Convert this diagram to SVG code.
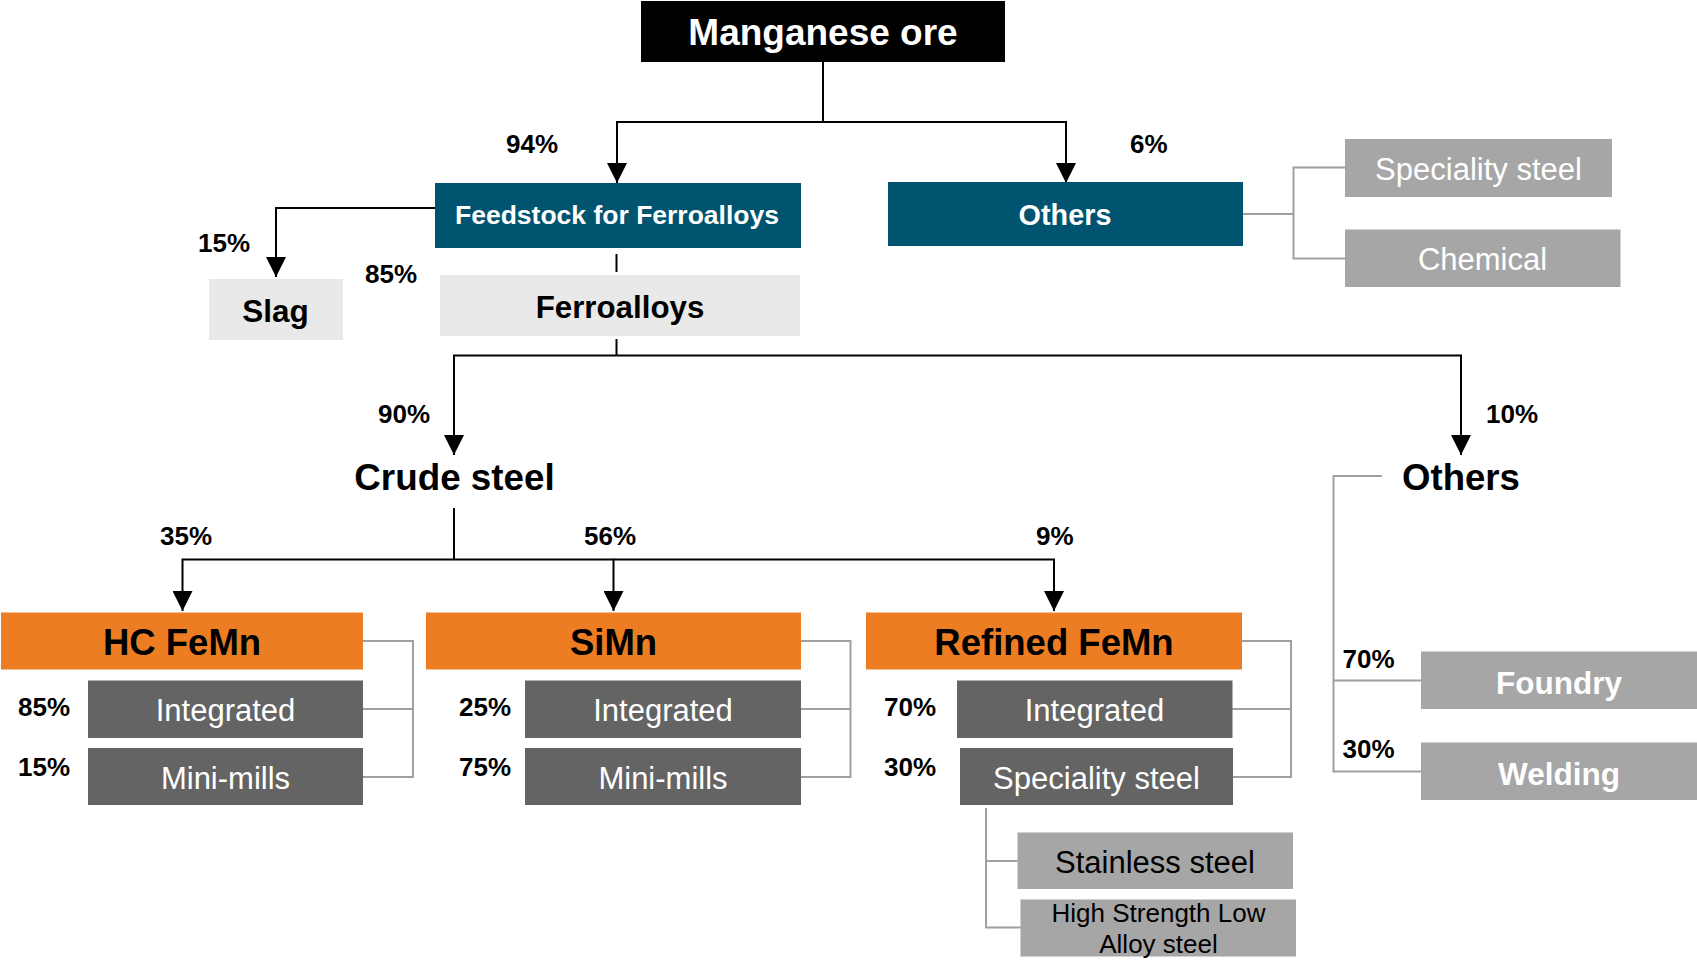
<svg xmlns="http://www.w3.org/2000/svg" width="1697" height="960" viewBox="0 0 1697 960">
<style>
text{font-family:"Liberation Sans",Arial,sans-serif;text-anchor:middle}
.b{font-weight:bold}
.pct{font-weight:bold;font-size:26px;fill:#000;text-anchor:start}
.w{fill:#fff}
.k{fill:#000}
.arr{stroke:#000;stroke-width:2;fill:none}
.arrh{stroke:#000;stroke-width:2;fill:none;marker-end:url(#ah)}
.br{stroke:#a0a0a0;stroke-width:2;fill:none}
.blue{fill:#005470}
.org{fill:#ed7d22}
.dk{fill:#646464}
.lg{fill:#a6a6a6}
.pale{fill:#e9e9e9}
</style>
<defs>
<marker id="ah" viewBox="0 0 20 20" refX="20" refY="10" markerWidth="20" markerHeight="20" markerUnits="userSpaceOnUse" orient="auto">
<path d="M0,0 L20,10 L0,20 z" fill="#000"/>
</marker>
</defs>
<rect width="1697" height="960" fill="#fff"/>

<g id="connectors">
<polyline class="arr" points="823,62 823,122"/>
<polyline class="arrh" points="1066,122 617,122 617,183"/>
<polyline class="arrh" points="823,122 1066,122 1066,183"/>
<polyline class="arrh" points="435,208 276,208 276,277"/>
<line class="arr" x1="616.5" y1="254" x2="616.5" y2="272"/>
<line class="arr" x1="616.5" y1="339" x2="616.5" y2="355.5"/>
<polyline class="arrh" points="616.5,355.5 454,355.5 454,455"/>
<polyline class="arrh" points="616.5,355.5 1461,355.5 1461,455"/>
<line class="arr" x1="454" y1="508" x2="454" y2="559.5"/>
<polyline class="arrh" points="454,559.5 182.5,559.5 182.5,611"/>
<polyline class="arrh" points="454,559.5 613.5,559.5 613.5,611"/>
<polyline class="arrh" points="613.5,559.5 1054,559.5 1054,611"/>
<polyline class="br" points="1243,214 1293.5,214"/>
<polyline class="br" points="1345,167.5 1293.5,167.5 1293.5,258.5 1345,258.5"/>
<polyline class="br" points="363,641 413,641 413,777 363,777"/>
<line class="br" x1="363" y1="709" x2="413" y2="709"/>
<polyline class="br" points="801,641 850.5,641 850.5,777 801,777"/>
<line class="br" x1="801" y1="709" x2="850.5" y2="709"/>
<polyline class="br" points="1242,641 1291,641 1291,777 1233,777"/>
<line class="br" x1="1232" y1="709" x2="1291" y2="709"/>
<polyline class="br" points="986,808 986,927.5 1021,927.5"/>
<line class="br" x1="986" y1="861" x2="1017.5" y2="861"/>
<polyline class="br" points="1382,476 1333.5,476 1333.5,771.5 1421,771.5"/>
<line class="br" x1="1333.5" y1="680.5" x2="1421" y2="680.5"/>
</g>

<g id="labels">
<text class="pct" x="506" y="152.5">94%</text>
<text class="pct" x="1130" y="152.5">6%</text>
<text class="pct" x="198" y="252">15%</text>
<text class="pct" x="365" y="283">85%</text>
<text class="pct" x="378" y="423">90%</text>
<text class="pct" x="1486" y="423">10%</text>
<text class="pct" x="160" y="545">35%</text>
<text class="pct" x="584" y="545">56%</text>
<text class="pct" x="1036" y="544.5">9%</text>
<text class="pct" x="18" y="715.5">85%</text>
<text class="pct" x="18" y="775.5">15%</text>
<text class="pct" x="459" y="715.5">25%</text>
<text class="pct" x="459" y="775.5">75%</text>
<text class="pct" x="884" y="715.5">70%</text>
<text class="pct" x="884" y="775.5">30%</text>
<text class="pct" x="1342.5" y="668">70%</text>
<text class="pct" x="1342.5" y="758">30%</text>
</g>

<g id="manganese-ore">
<rect x="641" y="1" width="364" height="61" fill="#000"/>
<text class="b w" x="823" y="44.5" font-size="37">Manganese ore</text>
</g>
<g id="feedstock">
<rect class="blue" x="435" y="183" width="366" height="65"/>
<text class="b w" x="617" y="224" font-size="26.5">Feedstock for Ferroalloys</text>
</g>
<g id="others-top">
<rect class="blue" x="888" y="182" width="355" height="64"/>
<text class="b w" x="1065" y="225" font-size="28.8">Others</text>
</g>
<g id="speciality-steel-top">
<rect class="lg" x="1345" y="139" width="267" height="58"/>
<text class="w" x="1478.5" y="180" font-size="31">Speciality steel</text>
</g>
<g id="chemical">
<rect class="lg" x="1345" y="229.5" width="275.5" height="57.5"/>
<text class="w" x="1482.5" y="270" font-size="31">Chemical</text>
</g>
<g id="slag">
<rect class="pale" x="209" y="279" width="134" height="61"/>
<text class="b k" x="275.5" y="321.5" font-size="31.5">Slag</text>
</g>
<g id="ferroalloys">
<rect class="pale" x="440" y="275" width="360" height="61"/>
<text class="b k" x="620" y="317.5" font-size="31.3">Ferroalloys</text>
</g>
<g id="crude-steel">
<text class="b k" x="454.5" y="489.5" font-size="36.8">Crude steel</text>
</g>
<g id="others-right">
<text class="b k" x="1461" y="489.5" font-size="36.6">Others</text>
</g>
<g id="hc-femn">
<rect class="org" x="1" y="612.5" width="362" height="57"/>
<text class="b k" x="182" y="655" font-size="36.5">HC FeMn</text>
</g>
<g id="simn">
<rect class="org" x="426" y="612.5" width="375" height="57"/>
<text class="b k" x="613.5" y="655" font-size="36.5">SiMn</text>
</g>
<g id="refined-femn">
<rect class="org" x="866" y="612.5" width="376" height="57"/>
<text class="b k" x="1054" y="655" font-size="36.5">Refined FeMn</text>
</g>
<g id="hc-integrated">
<rect class="dk" x="88" y="680.5" width="275" height="57.5"/>
<text class="w" x="225.5" y="721" font-size="31">Integrated</text>
</g>
<g id="hc-minimills">
<rect class="dk" x="88" y="748" width="275" height="57"/>
<text class="w" x="225.5" y="789" font-size="31">Mini-mills</text>
</g>
<g id="simn-integrated">
<rect class="dk" x="525" y="680.5" width="276" height="57.5"/>
<text class="w" x="663" y="721" font-size="31">Integrated</text>
</g>
<g id="simn-minimills">
<rect class="dk" x="525" y="748" width="276" height="57"/>
<text class="w" x="663" y="789" font-size="31">Mini-mills</text>
</g>
<g id="refined-integrated">
<rect class="dk" x="957" y="680.5" width="275.5" height="57.5"/>
<text class="w" x="1094.5" y="721" font-size="31">Integrated</text>
</g>
<g id="refined-speciality">
<rect class="dk" x="960" y="748" width="273" height="57"/>
<text class="w" x="1096.5" y="789" font-size="31">Speciality steel</text>
</g>
<g id="stainless-steel">
<rect class="lg" x="1017.5" y="832.5" width="275.5" height="56.5"/>
<text class="k" x="1155" y="873" font-size="31">Stainless steel</text>
</g>
<g id="hsla-steel">
<rect class="lg" x="1020.5" y="899.5" width="275.5" height="57"/>
<text class="k" x="1158.5" y="921.5" font-size="26">High Strength Low</text>
<text class="k" x="1158.5" y="953" font-size="26">Alloy steel</text>
</g>
<g id="foundry">
<rect class="lg" x="1421" y="651.5" width="276" height="57.5"/>
<text class="b w" x="1559" y="693.5" font-size="31.5">Foundry</text>
</g>
<g id="welding">
<rect class="lg" x="1421" y="742.5" width="276" height="57.5"/>
<text class="b w" x="1559" y="784.5" font-size="31.5">Welding</text>
</g>
</svg>
